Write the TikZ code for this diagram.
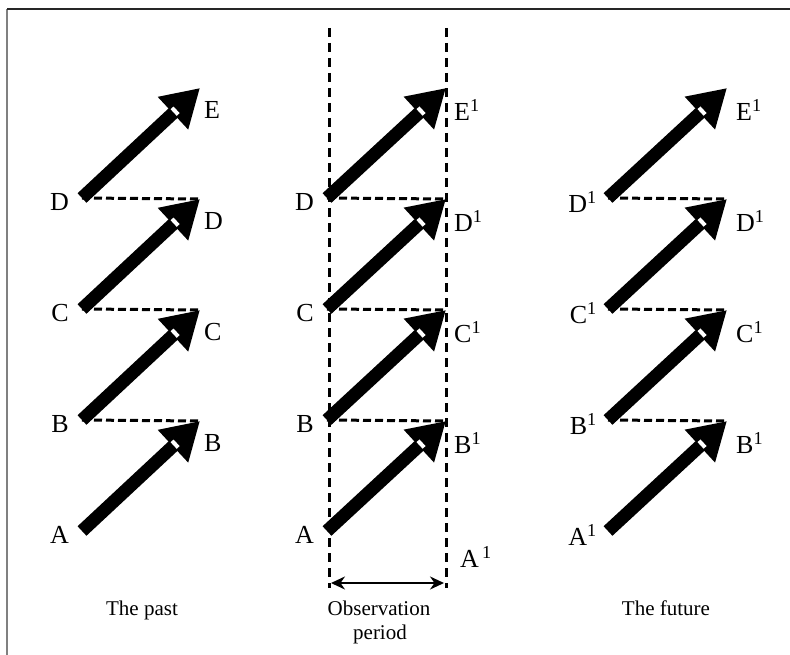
\documentclass[tikz,border=0pt]{standalone}
\usepackage{fontspec}
\setmainfont{Liberation Serif}
\usetikzlibrary{arrows.meta,calc}
\begin{document}
\begin{tikzpicture}[x=1pt,y=-1pt,
  bigarrow/.style={line width=13pt, line cap=butt, -{Triangle[length=37pt,width=42pt]}, black},
  hdash/.style={dash pattern=on 8pt off 4pt, line width=3pt},
  vdash/.style={dash pattern=on 9pt off 6pt, line width=3pt},
  lbl/.style={font=\fontsize{26}{30}\selectfont, inner sep=0pt},
  captxt/.style={font=\fontsize{21}{25}\selectfont, inner sep=0pt, anchor=base},
  notch/.style={fill=white, inner sep=0pt, minimum width=4pt, minimum height=9pt, rotate=43},
  frameline/.style={line width=2pt}]
\useasboundingbox (0,0) rectangle (790,655);
% frame
\coordinate (f0) at (7,655);
\coordinate (f1) at (7,9);
\coordinate (f2) at (790,9);
\draw[frameline, gray] (f0) -- (f1);
\draw[frameline, black!85] (f1) -- (f2);
% coordinates
\foreach \c/\tx/\hx in {L/82/200, M/327/446, R/608/727} {
  \foreach \i in {1,...,4} {
    \pgfmathsetmacro\ty{531-111*(\i-1)}
    \pgfmathsetmacro\hy{421-111*(\i-1)}
    \coordinate (\c t\i) at (\tx,\ty);
    \coordinate (\c h\i) at (\hx,\hy);
  }
}
% vertical dashed lines
\coordinate (v1a) at (329,28); \coordinate (v1b) at (329,588);
\coordinate (v2a) at (446,28); \coordinate (v2b) at (446,588);
\draw[vdash] (v1a) -- (v1b);
\draw[vdash] (v2a) -- (v2b);
% horizontal dashed lines
\foreach \c in {L,M,R} {
  \foreach \i/\j in {2/1,3/2,4/3} {
    \draw[hdash] (\c t\i) -- (\c h\j);
  }
}
% arrows
\foreach \c in {L,M,R} {
  \foreach \i in {1,...,4} {
    \draw[bigarrow] (\c t\i) -- (\c h\i);
    \node[notch] at ($(\c h\i)!34pt!(\c t\i)$) {};
  }
}
% double arrow
\coordinate (da1) at (331,583);
\coordinate (da2) at (444,583);
\draw[line width=2.8pt, {Stealth[length=14pt,width=13pt]}-{Stealth[length=14pt,width=13pt]}] (da1) -- (da2);
% left column labels
\node[lbl, anchor=east] (LA) at (69,535) {A};
\node[lbl, anchor=east] (LB) at (69,424) {B};
\node[lbl, anchor=east] (LC) at (69,313) {C};
\node[lbl, anchor=east] (LD) at (69,202) {D};
\node[lbl, anchor=west] (LB2) at (204,443) {B};
\node[lbl, anchor=west] (LC2) at (204,332) {C};
\node[lbl, anchor=west] (LD2) at (204,221) {D};
\node[lbl, anchor=west] (LE2) at (204,110) {E};
% middle column labels
\node[lbl, anchor=east] (MA) at (314,535) {A};
\node[lbl, anchor=east] (MB) at (314,424) {B};
\node[lbl, anchor=east] (MC) at (314,313) {C};
\node[lbl, anchor=east] (MD) at (314,202) {D};
\node[lbl, anchor=west] (MB2) at (454,443) {B\textsuperscript{1}};
\node[lbl, anchor=west] (MC2) at (454,332) {C\textsuperscript{1}};
\node[lbl, anchor=west] (MD2) at (454,221) {D\textsuperscript{1}};
\node[lbl, anchor=west] (ME2) at (454,110) {E\textsuperscript{1}};
\node[lbl, anchor=west] (MA2) at (460,557) {A\textsuperscript{\,1}};
% right column labels
\node[lbl, anchor=east] (RA) at (597,535) {A\textsuperscript{1}};
\node[lbl, anchor=east] (RB) at (597,424) {B\textsuperscript{1}};
\node[lbl, anchor=east] (RC) at (597,313) {C\textsuperscript{1}};
\node[lbl, anchor=east] (RD) at (597,202) {D\textsuperscript{1}};
\node[lbl, anchor=west] (RB2) at (736,443) {B\textsuperscript{1}};
\node[lbl, anchor=west] (RC2) at (736,332) {C\textsuperscript{1}};
\node[lbl, anchor=west] (RD2) at (736,221) {D\textsuperscript{1}};
\node[lbl, anchor=west] (RE2) at (736,110) {E\textsuperscript{1}};
% captions
\node[captxt] (past) at (142,615) {The past};
\node[captxt] (obs1) at (379,615) {Observation};
\node[captxt] (obs2) at (380,639) {period};
\node[captxt] (future) at (666,615) {The future};
\end{tikzpicture}
\end{document}
